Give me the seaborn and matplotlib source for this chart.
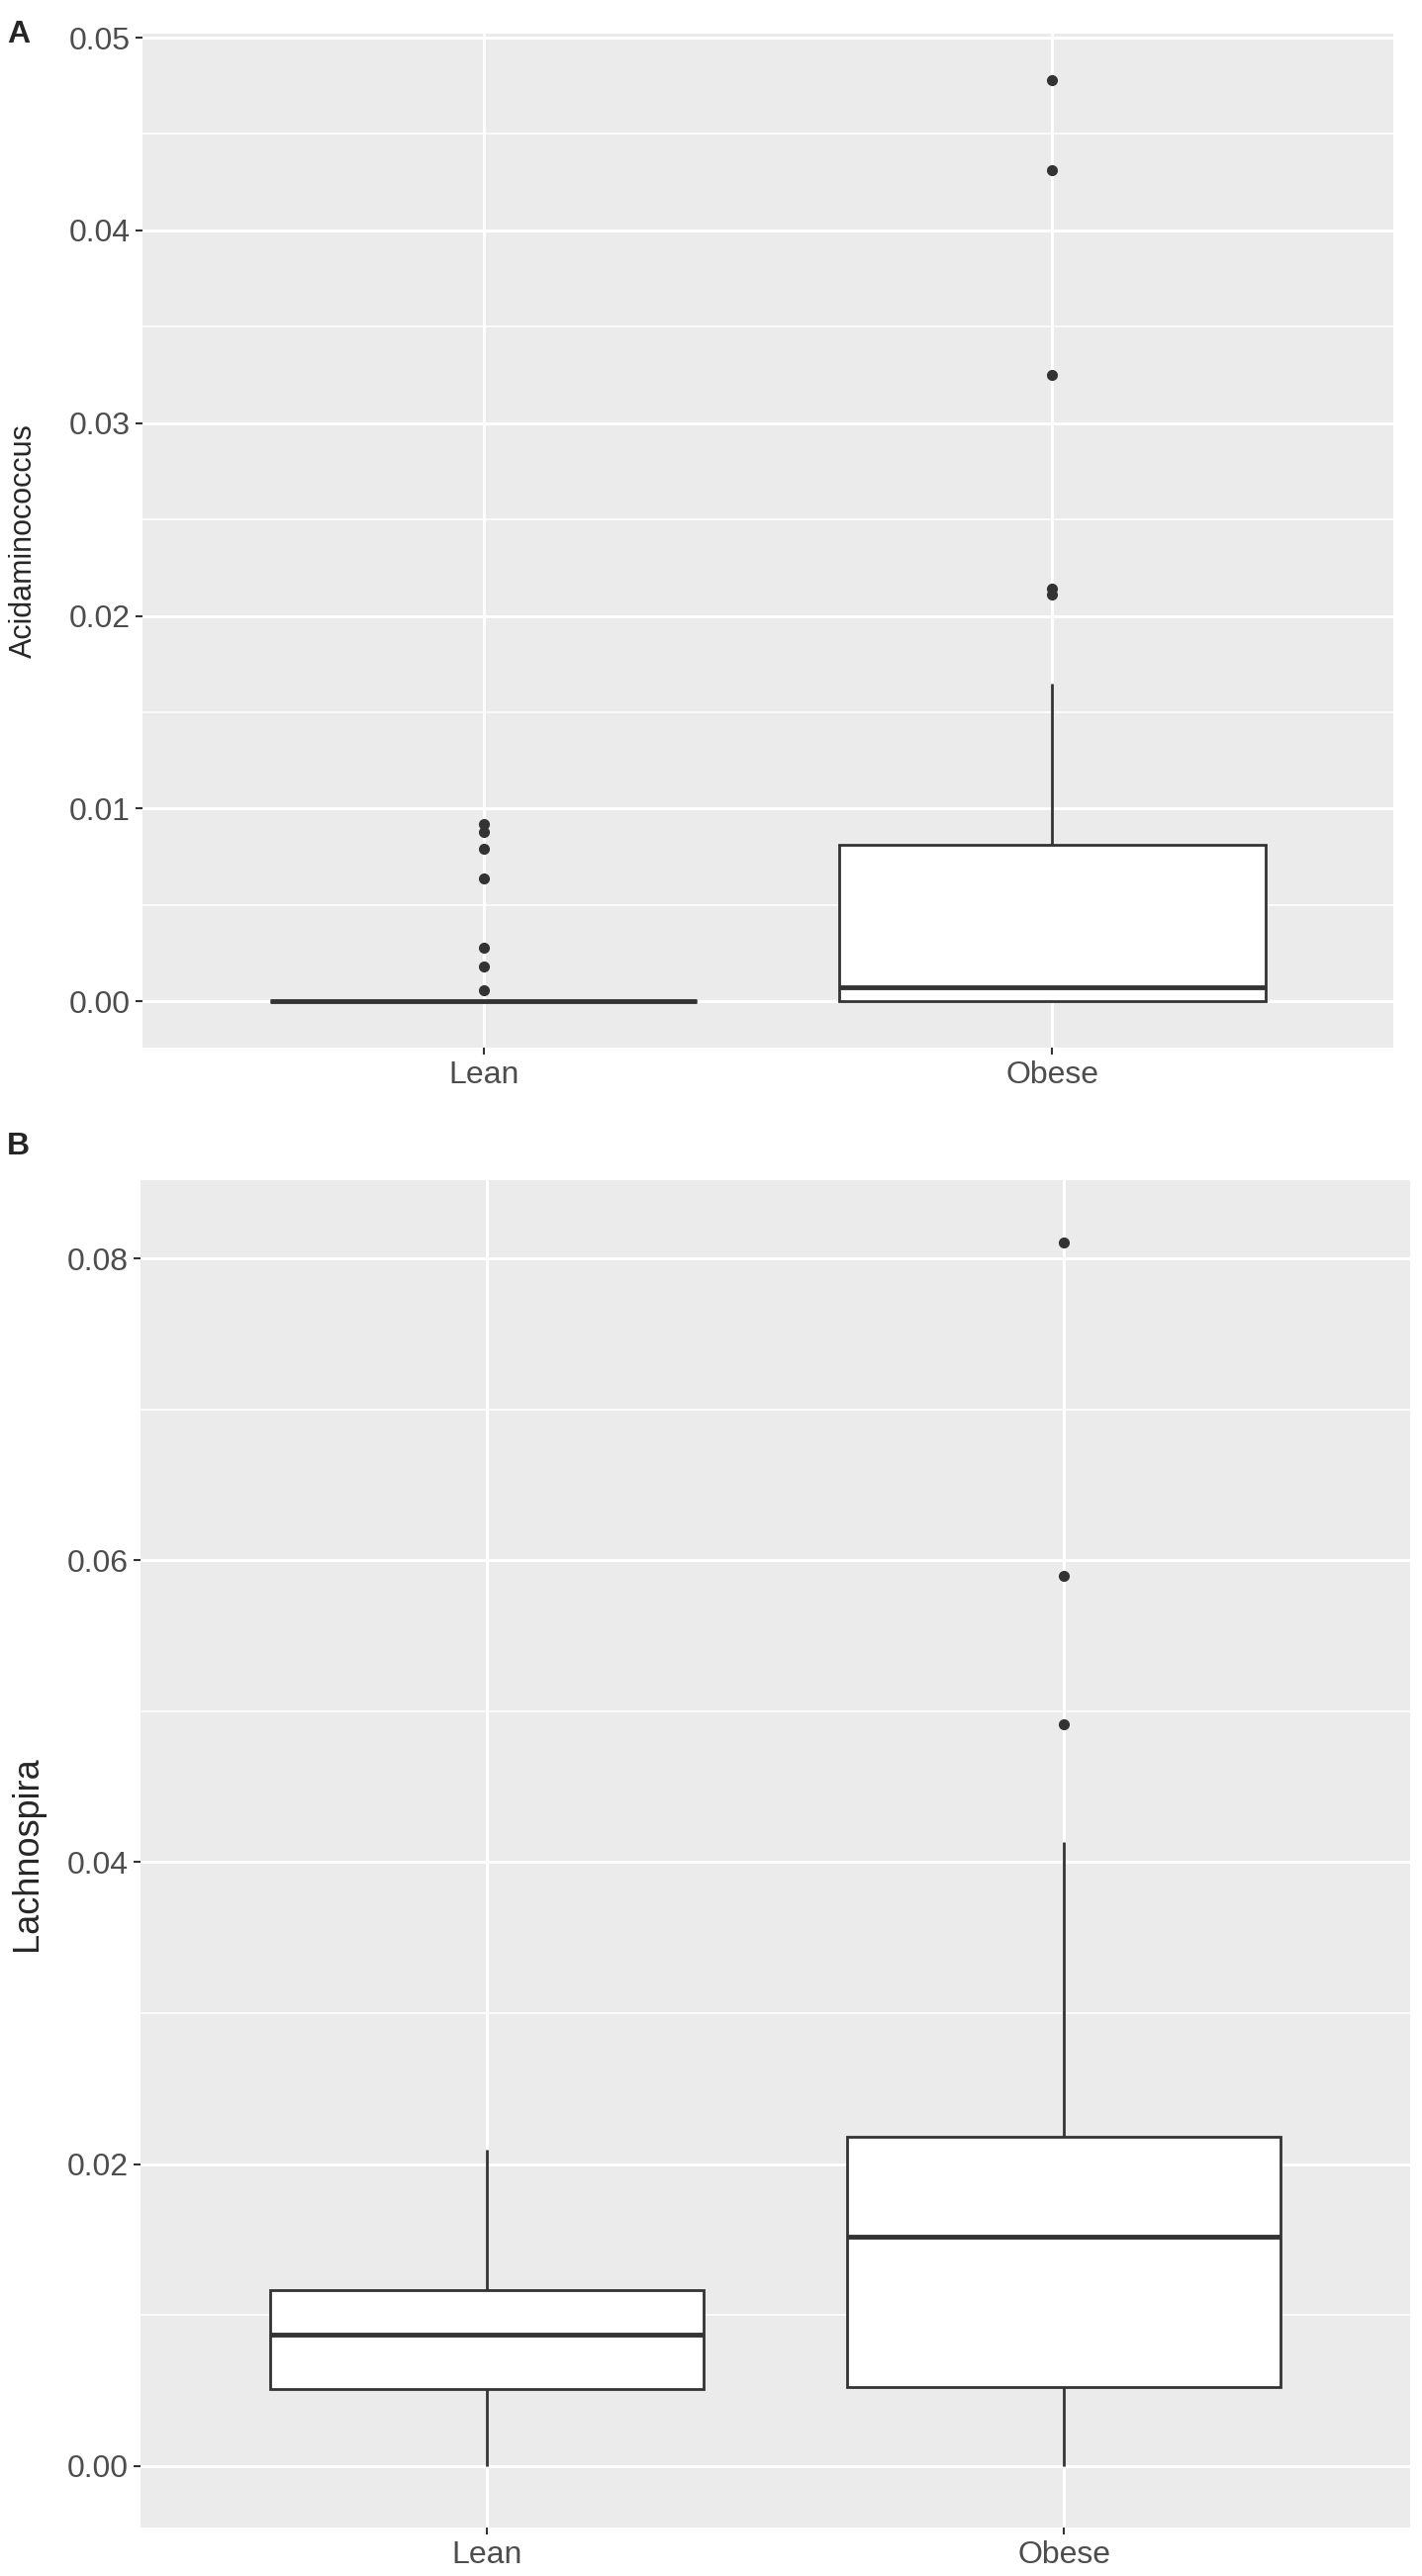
import seaborn as sns
import numpy as np
import pandas as pd
import matplotlib.pyplot as plt
from matplotlib.ticker import MultipleLocator, FormatStrFormatter

groups = ['Lean', 'Obese']

# panel A - Acidaminococcus (relative abundance)
acid_lean = [0, 0, 0, 0, 0, 0, 0, 0, 0, 0, 0, 0, 0, 0, 0, 0, 0, 0, 0, 0, 0, 0, 0, 0,
             0.0006, 0.0018, 0.0028, 0.0064, 0.0079, 0.0088, 0.0092]
acid_obese = [0, 0, 0, 0, 0, 0, 0, 0.0001, 0.0002, 0.0004, 0.0005, 0.0006, 0.00072,
              0.0015, 0.0028, 0.0041, 0.0055, 0.0068, 0.00813, 0.01647,
              0.0211, 0.0214, 0.0325, 0.0431, 0.0478]

# panel B - Lachnospira
lach_lean = [0, 0.0015, 0.0028, 0.0037, 0.0045, 0.00509, 0.0058, 0.0066, 0.0073, 0.0080,
             0.00867, 0.0093, 0.0099, 0.0105, 0.0110, 0.01163, 0.0128, 0.0142, 0.0160,
             0.0185, 0.02093]
lach_obese = [0, 0.0012, 0.0023, 0.0031, 0.0039, 0.0046, 0.00522, 0.0068, 0.0085, 0.0102,
              0.0119, 0.0135, 0.01515, 0.0163, 0.0175, 0.0186, 0.0196, 0.0207, 0.02181,
              0.0265, 0.0330, 0.04135, 0.04914, 0.0590, 0.0811]

sns.set_theme(style='darkgrid', rc={'axes.facecolor': '#EBEBEB', 'grid.color': 'white'})
plt.rcParams['font.family'] = ['Liberation Sans', 'DejaVu Sans']

fig = plt.figure(figsize=(14.37, 26.04), dpi=100)
axA = fig.add_axes([0.1002, 0.5933, 0.8796, 0.3936])
axB = fig.add_axes([0.0988, 0.0188, 0.8928, 0.5230])


def make_df(lean, obese):
    return pd.DataFrame({'group': ['Lean'] * len(lean) + ['Obese'] * len(obese),
                         'value': list(lean) + list(obese)})


def draw(ax, df, ylab, major, minor, ylim, lab_font):
    sns.boxplot(data=df, x='group', y='value', order=groups, ax=ax, width=0.75,
                color='white', linecolor='#333333', linewidth=2, showcaps=False, whis=1.5,
                saturation=1,
                medianprops=dict(linewidth=3.5, color='#333333'),
                flierprops=dict(marker='o', markerfacecolor='#333333',
                                markeredgecolor='#333333', markersize=7))
    ax.set_xlim(-0.6, 1.6)
    ax.set_ylim(*ylim)
    ax.yaxis.set_major_locator(MultipleLocator(major))
    ax.yaxis.set_minor_locator(MultipleLocator(minor))
    ax.yaxis.set_major_formatter(FormatStrFormatter('%.2f'))
    ax.grid(which='major', color='white', linewidth=2.2)
    ax.grid(which='minor', axis='y', color='white', linewidth=1.1)
    ax.set_axisbelow(True)
    for s in ax.spines.values():
        s.set_visible(False)
    ax.tick_params(which='major', bottom=True, left=True, length=5, width=1.5,
                   color='#333333', labelsize=23, labelcolor='#4D4D4D', pad=4)
    ax.tick_params(which='minor', bottom=False, left=False, length=0)
    ax.set_xlabel('')
    ax.set_ylabel(ylab, **lab_font)


draw(axA, make_df(acid_lean, acid_obese), 'Acidaminococcus', 0.01, 0.005, (-0.0024, 0.0502),
     dict(fontsize=22, family=['Liberation Sans Narrow', 'Liberation Sans'], labelpad=22))
draw(axB, make_df(lach_lean, lach_obese), 'Lachnospira', 0.02, 0.01, (-0.0041, 0.0852),
     dict(fontsize=26, labelpad=16))

fig.text(0.005, 0.9925, 'A', fontsize=23, fontweight='bold', va='top')
fig.text(0.005, 0.5605, 'B', fontsize=23, fontweight='bold', va='top')

fig.savefig('out.png', dpi=100)
